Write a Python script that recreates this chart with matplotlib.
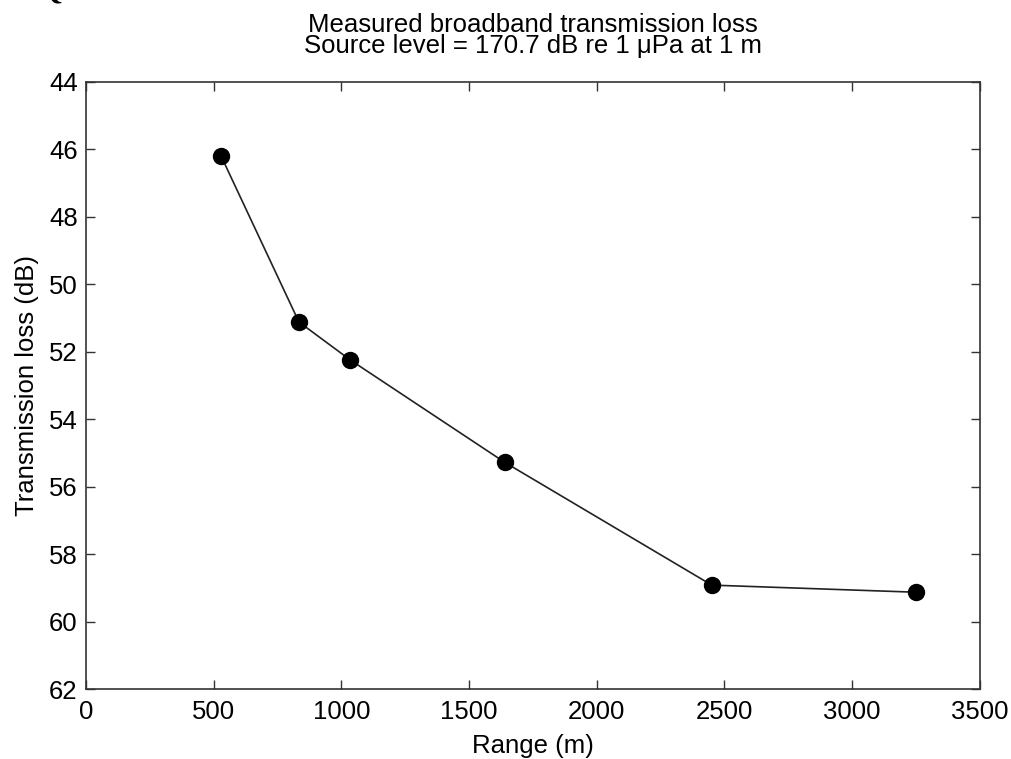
import matplotlib
matplotlib.use("Agg")
import matplotlib.pyplot as plt

plt.rcParams['font.family'] = ['Liberation Sans', 'DejaVu Sans']

range_m = [529, 834, 1034, 1640, 2451, 3249]
trans_loss = [46.2, 51.12, 52.24, 55.28, 58.92, 59.13]
xticks = [0, 500, 1000, 1500, 2000, 2500, 3000, 3500]
yticks = [44, 46, 48, 50, 52, 54, 56, 58, 60, 62]

fig = plt.figure(figsize=(10.12, 7.59), dpi=100)
ax = fig.add_axes([0.085, 0.0922, 0.883, 0.8])

ax.plot(range_m, trans_loss, color='#222222', linewidth=1.2, marker='o',
        markersize=11.5, markerfacecolor='black', markeredgecolor='black')

ax.set_xlim(0, 3500)
ax.set_ylim(62, 44)
ax.set_xticks(xticks)
ax.set_yticks(yticks)
ax.tick_params(direction='in', length=6.5, width=1, labelsize=18.5, top=True, right=True,
               color='#333333')
ax.tick_params(axis='x', pad=8)
ax.tick_params(axis='y', pad=6)
for s in ax.spines.values():
    s.set_color('#333333')
    s.set_linewidth(1.2)

ax.set_xlabel('Range (m)', fontsize=18.5, labelpad=7)
ax.set_ylabel('Transmission loss (dB)', fontsize=18.5, labelpad=7)
ax.set_title('Measured broadband transmission loss\nSource level = 170.7 dB re 1 \u03bcPa at 1 m',
             fontsize=18.5, pad=21, linespacing=0.85)

fig.text(0.05, 1.012, 'Q', fontsize=22, fontweight='bold', family='Liberation Serif',
         ha='center', va='center')

fig.savefig('out.png', dpi=100)
